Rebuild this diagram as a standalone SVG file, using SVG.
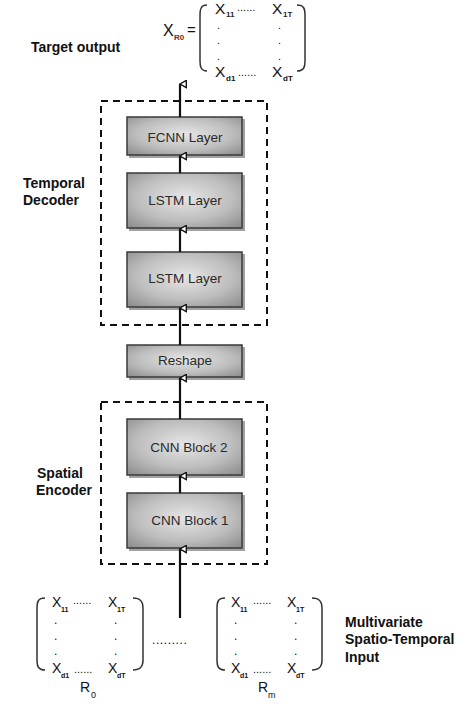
<svg xmlns="http://www.w3.org/2000/svg" width="474" height="721" viewBox="0 0 474 721">
<style>
.lbl{font-family:"Liberation Sans",Arial,sans-serif;font-weight:bold;font-size:14px;fill:#111}
.box{fill:url(#g);stroke:#3a3a3a;stroke-width:1.5}
.sh{fill:#555;opacity:0.55}
.bt{font-family:"Liberation Sans",Arial,sans-serif;font-size:13.5px;fill:#2a2a2a;text-anchor:middle}
.dash{fill:none;stroke:#111;stroke-width:2;stroke-dasharray:7 5}
.conn{stroke:#111;stroke-width:2.2;fill:none;marker-end:url(#ah)}
.mx{font-family:"Liberation Sans",Arial,sans-serif;fill:#111}
.par{fill:none;stroke:#333;stroke-width:1.5}
</style>
<defs>
<radialGradient id="g" cx="50%" cy="45%" r="70%">
<stop offset="0" stop-color="#e6e6e6"/>
<stop offset="0.6" stop-color="#bdbdbd"/>
<stop offset="1" stop-color="#909090"/>
</radialGradient>
<marker id="ah" viewBox="0 0 10 10" refX="5" refY="1" markerWidth="9" markerHeight="9" markerUnits="userSpaceOnUse" orient="auto-start-reverse">
<path d="M1 8 L5 1 L9 8 Z" fill="#fff" stroke="#111" stroke-width="1.5"/>
</marker>
</defs>

<!-- top matrix -->
<g id="target-matrix" class="mx">
<text x="163" y="36" font-size="16">X</text>
<text x="174" y="40" font-size="8" font-weight="bold" fill="#7a2b20">R0</text>
<text x="187" y="35" font-size="15">=</text>
<path class="par" d="M207 5 C201 5 200 9 200 15 L200 61 C200 67 201 71 207 71"/>
<path class="par" d="M297 5 C304 5 305 9 305 15 L305 61 C305 67 304 71 297 71"/>
<text x="215" y="14" font-size="15.5">X</text>
<text x="226" y="17" font-size="8" font-weight="bold" fill="#223">11</text>
<text x="237" y="11" font-size="11">......</text>
<text x="272" y="14" font-size="15.5">X</text>
<text x="283" y="17" font-size="8" font-weight="bold" fill="#322">1T</text>
<text x="217" y="29" font-size="11">.</text>
<text x="217" y="44" font-size="11">.</text>
<text x="217" y="60" font-size="11">.</text>
<text x="278" y="29" font-size="11">.</text>
<text x="278" y="44" font-size="11">.</text>
<text x="278" y="60" font-size="11">.</text>
<text x="215" y="77" font-size="15.5">X</text>
<text x="226" y="81" font-size="8" font-weight="bold">d1</text>
<text x="238" y="76" font-size="11">......</text>
<text x="272" y="77" font-size="15.5">X</text>
<text x="283" y="81" font-size="8" font-weight="bold">dT</text>
</g>

<g id="label-target"><text class="lbl" x="31" y="52">Target output</text></g>
<g id="label-decoder"><text class="lbl" x="23" y="188">Temporal</text><text class="lbl" x="23" y="205">Decoder</text></g>
<g id="label-encoder"><text class="lbl" x="37" y="478">Spatial</text><text class="lbl" x="36" y="495">Encoder</text></g>

<g id="decoder-frame"><rect class="dash" x="101" y="101" width="166" height="224"/></g>
<g id="encoder-frame"><rect class="dash" x="101" y="402" width="166" height="162"/></g>

<g id="fcnn"><rect class="sh" x="129" y="119" width="116" height="39"/><rect class="box" x="127" y="117" width="115" height="38"/><text class="bt" x="185" y="142">FCNN Layer</text></g>
<g id="lstm1"><rect class="sh" x="129" y="175" width="116" height="56"/><rect class="box" x="127" y="173" width="115" height="55"/><text class="bt" x="185" y="205">LSTM Layer</text></g>
<g id="lstm2"><rect class="sh" x="129" y="254" width="116" height="56"/><rect class="box" x="127" y="252" width="115" height="55"/><text class="bt" x="185" y="283">LSTM Layer</text></g>
<g id="reshape"><rect class="sh" x="129" y="347" width="116" height="33"/><rect class="box" x="127" y="345" width="115" height="32"/><text class="bt" x="185" y="365">Reshape</text></g>
<g id="cnn2"><rect class="sh" x="129" y="421" width="116" height="57"/><rect class="box" x="127" y="419" width="115" height="56"/><text class="bt" x="189" y="452">CNN Block 2</text></g>
<g id="cnn1"><rect class="sh" x="129" y="495" width="116" height="56"/><rect class="box" x="127" y="493" width="115" height="55"/><text class="bt" x="190" y="525">CNN Block 1</text></g>

<g id="connectors">
<line class="conn" x1="180" y1="117" x2="180" y2="84"/>
<line class="conn" x1="180" y1="173" x2="180" y2="156"/>
<line class="conn" x1="180" y1="252" x2="180" y2="229"/>
<line class="conn" x1="180" y1="345" x2="180" y2="308"/>
<line class="conn" x1="180" y1="419" x2="180" y2="378"/>
<line class="conn" x1="180" y1="493" x2="180" y2="476"/>
<line class="conn" x1="180" y1="618" x2="180" y2="549"/>
</g>

<g id="input-r0" class="mx">
<path class="par" d="M45 598 C38 598 37 602 37 608 L37 660 C37 666 38 670 45 670"/>
<path class="par" d="M133 598 C141 598 143 602 143 608 L143 660 C143 666 141 670 133 670"/>
<text x="52" y="607" font-size="14">X</text>
<text x="61" y="612" font-size="7" font-weight="bold">11</text>
<text x="73" y="604" font-size="11">......</text>
<text x="108" y="607" font-size="14">X</text>
<text x="117" y="612" font-size="7" font-weight="bold">1T</text>
<text x="54" y="624" font-size="12">.</text>
<text x="54" y="640" font-size="12">.</text>
<text x="54" y="655" font-size="12">.</text>
<text x="114" y="624" font-size="12">.</text>
<text x="114" y="640" font-size="12">.</text>
<text x="114" y="655" font-size="12">.</text>
<text x="52" y="673" font-size="14">X</text>
<text x="61" y="678" font-size="7" font-weight="bold">d1</text>
<text x="74" y="673" font-size="11">......</text>
<text x="108" y="673" font-size="14">X</text>
<text x="117" y="678" font-size="7" font-weight="bold">dT</text>
<text x="80" y="692" font-size="14">R</text>
<text x="91" y="698" font-size="9">0</text>
</g>

<g id="ellipsis" class="mx"><text x="152" y="644" font-size="12" letter-spacing="0.6">.........</text></g>

<g id="input-rm" class="mx">
<path class="par" d="M225 598 C218 598 217 602 217 608 L217 660 C217 666 218 670 225 670"/>
<path class="par" d="M312 598 C320 598 322 602 322 608 L322 660 C322 666 320 670 312 670"/>
<text x="231" y="607" font-size="14">X</text>
<text x="240" y="612" font-size="7" font-weight="bold">11</text>
<text x="253" y="604" font-size="11">......</text>
<text x="287" y="607" font-size="14">X</text>
<text x="296" y="612" font-size="7" font-weight="bold">1T</text>
<text x="234" y="624" font-size="12">.</text>
<text x="234" y="640" font-size="12">.</text>
<text x="234" y="655" font-size="12">.</text>
<text x="294" y="624" font-size="12">.</text>
<text x="294" y="640" font-size="12">.</text>
<text x="294" y="655" font-size="12">.</text>
<text x="231" y="673" font-size="14">X</text>
<text x="240" y="678" font-size="7" font-weight="bold">d1</text>
<text x="253" y="673" font-size="11">......</text>
<text x="287" y="673" font-size="14">X</text>
<text x="296" y="678" font-size="7" font-weight="bold">dT</text>
<text x="258" y="692" font-size="14">R</text>
<text x="268" y="698" font-size="9">m</text>
</g>

<g id="label-input"><text class="lbl" x="345" y="627" font-size="14.5">Multivariate</text><text class="lbl" x="345" y="644">Spatio-Temporal</text><text class="lbl" x="345" y="662">Input</text></g>
</svg>
